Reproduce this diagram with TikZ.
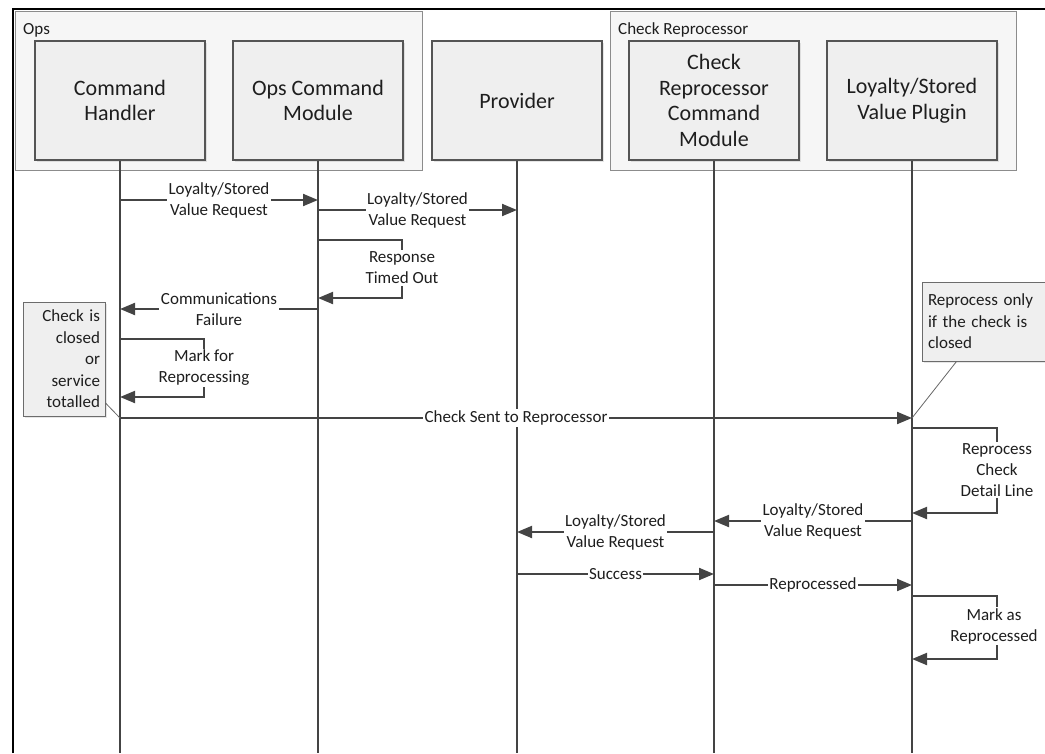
\documentclass[tikz,border=0pt]{standalone}
\usepackage{fontspec}
\setmainfont{Carlito}
\usetikzlibrary{arrows.meta,shadows,calc}
\definecolor{ln}{HTML}{444444}
\definecolor{boxfill}{HTML}{EFEFEF}
\definecolor{boxline}{HTML}{555555}
\definecolor{txt}{HTML}{1E1E1E}
\tikzset{
  lane/.style={draw=boxline, line width=1.2pt, fill=boxfill, minimum width=170pt, minimum height=119pt,
    align=center, text=txt, font=\fontsize{22}{25.7}\selectfont,
    drop shadow={shadow xshift=2pt, shadow yshift=-2pt, opacity=0.2}},
  grp/.style={draw=gray!90, line width=1pt, fill=boxfill!55},
  grplabel/.style={anchor=west, inner sep=0pt, text=txt, font=\fontsize{17}{20}\selectfont},
  life/.style={draw=ln, line width=2pt},
  msg/.style={draw=ln, line width=2pt, -{Triangle[length=15pt,width=12pt]}},
  lbl/.style={fill=white, inner sep=1.5pt, align=center, text=txt, font=\fontsize{17}{21}\selectfont},
  notebox/.style={draw=gray!85!black, line width=1pt, fill=boxfill, text=txt,
    font=\fontsize{17}{21.5}\selectfont,
    drop shadow={shadow xshift=2pt, shadow yshift=-2pt, opacity=0.2}},
  callout/.style={draw=gray!80!black, line width=0.8pt}
}
\begin{document}
\begin{tikzpicture}[x=1pt, y=-1pt]
\useasboundingbox (0,0) rectangle (1045,753);
% outer frame (partly visible)
\draw[black, line width=1.5pt] (13,753) -- (13,9) -- (1045,9);
% groups
\draw[grp] (15,11) rectangle (422,170);
\node[grplabel] (opslbl) at (23,30) {Ops};
\draw[grp] (610,11) rectangle (1016,170);
\node[grplabel] (crlbl) at (618,30) {Check Reprocessor};
% participants
\node[lane] (ch) at (120,100.5) {Command\\Handler};
\node[lane] (ocm) at (318,100.5) {Ops Command\\Module};
\node[lane] (prov) at (517,100.5) {Provider};
\node[lane] (crcm) at (714,100.5) {Check\\Reprocessor\\Command\\Module};
\node[lane] (plug) at (912,100.5) {Loyalty/Stored\\Value Plugin};
% lifelines
\foreach \p in {ch,ocm,prov,crcm,plug}{
  \draw[life] (\p.south) -- (\p.south |- 0,753);
}
% messages
\draw[msg] (ch.south |- 0,200) -- node[lbl] {Loyalty/Stored\\Value Request} (ocm.south |- 0,200);
\draw[msg] (ocm.south |- 0,210) -- node[lbl] {Loyalty/Stored\\Value Request} (prov.south |- 0,210);
\draw[msg] (ocm.south |- 0,240) -- ++(84,0) |- (ocm.south |- 0,298);
\node[lbl] (rto) at (402,268) {Response\\Timed Out};
\draw[msg] (ocm.south |- 0,309) -- node[lbl] {Communications\\Failure} (ch.south |- 0,309);
\draw[msg] (ch.south |- 0,339) -- ++(84,0) |- (ch.south |- 0,397);
\node[lbl] (mfr) at (204,368) {Mark for\\Reprocessing};
\draw[msg] (ch.south |- 0,418) -- node[lbl] {Check Sent to Reprocessor} (plug.south |- 0,418);
\draw[msg] (plug.south |- 0,428) -- ++(85,0) |- (plug.south |- 0,513);
\node[lbl] (rcd) at (997,470) {Reprocess\\Check\\Detail Line};
\draw[msg] (plug.south |- 0,521) -- node[lbl] {Loyalty/Stored\\Value Request} (crcm.south |- 0,521);
\draw[msg] (crcm.south |- 0,532) -- node[lbl] {Loyalty/Stored\\Value Request} (prov.south |- 0,532);
\draw[msg] (prov.south |- 0,574) -- node[lbl] {Success} (crcm.south |- 0,574);
\draw[msg] (crcm.south |- 0,585) -- node[lbl] {Reprocessed} (plug.south |- 0,585);
\draw[msg] (plug.south |- 0,596) -- ++(85,0) |- (plug.south |- 0,659);
\node[lbl] (mar) at (994,626) {Mark as\\Reprocessed};
% notes
\node[notebox, minimum width=82pt, minimum height=114pt, text width=72pt, align=right, inner sep=4pt]
  (note1) at (64,359) {Check is\\closed\\or\\service\\totalled};
\draw[callout] (note1.east |- 0,403) -- (ch.south |- 0,418);
\node[notebox, minimum width=140pt, minimum height=79pt, text width=128pt, align=left, inner sep=4pt]
  (note2) at (992,321.5) {Reprocess only\\if the check is\\closed};
\draw[callout] ($(note2.south west)+(35,0)$) -- (plug.south |- 0,418);
\end{tikzpicture}
\end{document}
